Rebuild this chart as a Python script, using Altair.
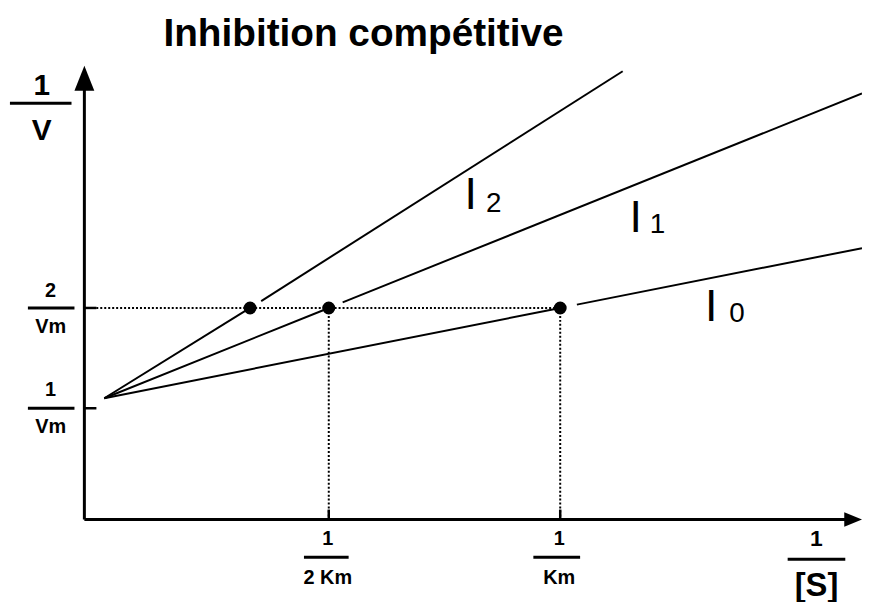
import altair as alt
import pandas as pd

# Coordinate system: x in units of 1/Km, y in units of 1/Vm
X_DOMAIN = [-0.193, 1.652]
Y_DOMAIN = [-0.911, 4.970]

# --- Lineweaver-Burk lines (each drawn in two pieces, with a small gap after the dot)
line_segment = ["I0a", "I0a", "I0b", "I0b",
                "I1a", "I1a", "I1b", "I1b",
                "I2a", "I2a", "I2b", "I2b"]
line_x = [0.015, 1.0, 1.036, 1.652,
          0.015, 0.5, 0.530, 1.652,
          0.015, 0.33, 0.354, 1.135]
line_y = [1.10, 2.0, 2.033, 2.596,
          1.10, 2.0, 2.056, 4.138,
          1.10, 2.0, 2.069, 4.36]

# --- Dots where each line reaches 2/Vm
dot_x = [0.33, 0.5, 1.0]
dot_y = [2.0, 2.0, 2.0]

# --- Dotted guide lines
guide_x = [-0.028, 0.5, 1.0]
guide_x2 = [1.0, 0.5, 1.0]
guide_y = [2.0, 2.0, 2.0]
guide_y2 = [2.0, -0.109, -0.109]

# --- Axes (origin of the drawn axes)
axis_x = [-0.028, -0.028]
axis_x2 = [-0.028, 1.62]
axis_y = [-0.109, -0.109]
axis_y2 = [4.2, -0.109]

# --- Tick marks
tick_x = [-0.028, -0.028, 0.5, 1.0]
tick_x2 = [-0.002, -0.002, 0.5, 1.0]
tick_y = [1.0, 2.0, -0.109, -0.109]
tick_y2 = [1.0, 2.0, -0.01, -0.01]

# --- Arrow heads
arrow_x = [-0.028, 1.633]
arrow_y = [4.29, -0.109]
arrow_shape = ["M0,-1L0.8,1L-0.8,1Z", "M1,0L-1,-0.8L-1,0.8Z"]
arrow_size = [625, 324]

# --- Fraction bars of the axis labels
frac_x = [-0.1888, -0.150, -0.150, 0.4464, 0.942, 1.4914]
frac_x2 = [-0.0558, -0.0494, -0.0494, 0.5429, 1.043, 1.6159]
frac_y = [4.040, 2.0, 1.0, -0.485, -0.485, -0.505]

# --- Bold texts (title and axis fractions)
bold_text = ["Inhibition compétitive",
             "1", "V",
             "2", "Vm",
             "1", "Vm",
             "1", "2 Km",
             "1", "Km",
             "1", "[S]"]
bold_x = [0.575,
          -0.1202, -0.1202,
          -0.1009, -0.1009,
          -0.1009, -0.1009,
          0.4979, 0.4979,
          0.9979, 0.9979,
          1.5536, 1.5536]
bold_y = [4.728,
          4.208, 3.762,
          2.168, 1.812,
          1.178, 0.812,
          -0.300, -0.690,
          -0.300, -0.690,
          -0.300, -0.770]
bold_size = [39,
             30, 30,
             20, 20,
             20, 20,
             20, 20,
             20, 20,
             23, 33]

# --- Regular texts (inhibitor labels I0, I1, I2)
reg_text = ["I", "2", "I", "1", "I", "0"]
reg_x = [0.8069, 0.8562, 1.1631, 1.2103, 1.3262, 1.382]
reg_y = [3.129, 3.040, 2.891, 2.822, 2.010, 1.941]
reg_size = [45, 28, 45, 28, 45, 28]

FONT = "Liberation Sans"

xs = alt.Scale(domain=X_DOMAIN, nice=False, zero=False)
ys = alt.Scale(domain=Y_DOMAIN, nice=False, zero=False)


def X(f="x"):
    return alt.X(f"{f}:Q", scale=xs, axis=None)


def Y(f="y"):
    return alt.Y(f"{f}:Q", scale=ys, axis=None)


lines_df = pd.DataFrame({"seg": line_segment, "x": line_x, "y": line_y})
lines = alt.Chart(lines_df).mark_line(color="black", strokeWidth=2).encode(
    x=X(), y=Y(), detail="seg:N"
)

guides_df = pd.DataFrame({"x": guide_x, "x2": guide_x2, "y": guide_y, "y2": guide_y2})
guides = alt.Chart(guides_df).mark_rule(color="black", strokeWidth=2, strokeDash=[2, 2]).encode(
    x=X(), x2="x2:Q", y=Y(), y2="y2:Q"
)

axes_df = pd.DataFrame({"x": axis_x, "x2": axis_x2, "y": axis_y, "y2": axis_y2})
axes = alt.Chart(axes_df).mark_rule(color="black", strokeWidth=3).encode(
    x=X(), x2="x2:Q", y=Y(), y2="y2:Q"
)

ticks_df = pd.DataFrame({"x": tick_x, "x2": tick_x2, "y": tick_y, "y2": tick_y2})
ticks = alt.Chart(ticks_df).mark_rule(color="black", strokeWidth=2.5).encode(
    x=X(), x2="x2:Q", y=Y(), y2="y2:Q"
)

dots_df = pd.DataFrame({"x": dot_x, "y": dot_y})
dots = alt.Chart(dots_df).mark_point(filled=True, color="black", size=170, opacity=1, shape="circle").encode(
    x=X(), y=Y()
)

arrow_layers = []
for ax, ay, sh, sz in zip(arrow_x, arrow_y, arrow_shape, arrow_size):
    adf = pd.DataFrame({"x": [ax], "y": [ay]})
    arrow_layers.append(
        alt.Chart(adf).mark_point(filled=True, color="black", shape=sh, size=sz, opacity=1).encode(
            x=X(), y=Y()
        )
    )

frac_df = pd.DataFrame({"x": frac_x, "x2": frac_x2, "y": frac_y})
fracs = alt.Chart(frac_df).mark_rule(color="black", strokeWidth=3).encode(
    x=X(), x2="x2:Q", y=Y()
)

bold_df = pd.DataFrame({"t": bold_text, "x": bold_x, "y": bold_y, "s": bold_size})
bold = alt.Chart(bold_df).mark_text(
    font=FONT, fontWeight="bold", color="black", align="center", baseline="middle"
).encode(x=X(), y=Y(), text="t:N", size=alt.Size("s:Q", scale=None))

reg_df = pd.DataFrame({"t": reg_text, "x": reg_x, "y": reg_y, "s": reg_size})
reg = alt.Chart(reg_df).mark_text(
    font=FONT, fontWeight="normal", color="black", align="center", baseline="middle"
).encode(x=X(), y=Y(), text="t:N", size=alt.Size("s:Q", scale=None))

chart = alt.layer(
    guides, lines, axes, ticks, dots, *arrow_layers, fracs, bold, reg
).properties(
    width=860, height=594,
    autosize=alt.AutoSizeParams(type="none"),
    padding=0,
    background="white",
).configure_view(stroke=None)

chart.save("out.html", embed_options={"renderer": "svg", "actions": False})
